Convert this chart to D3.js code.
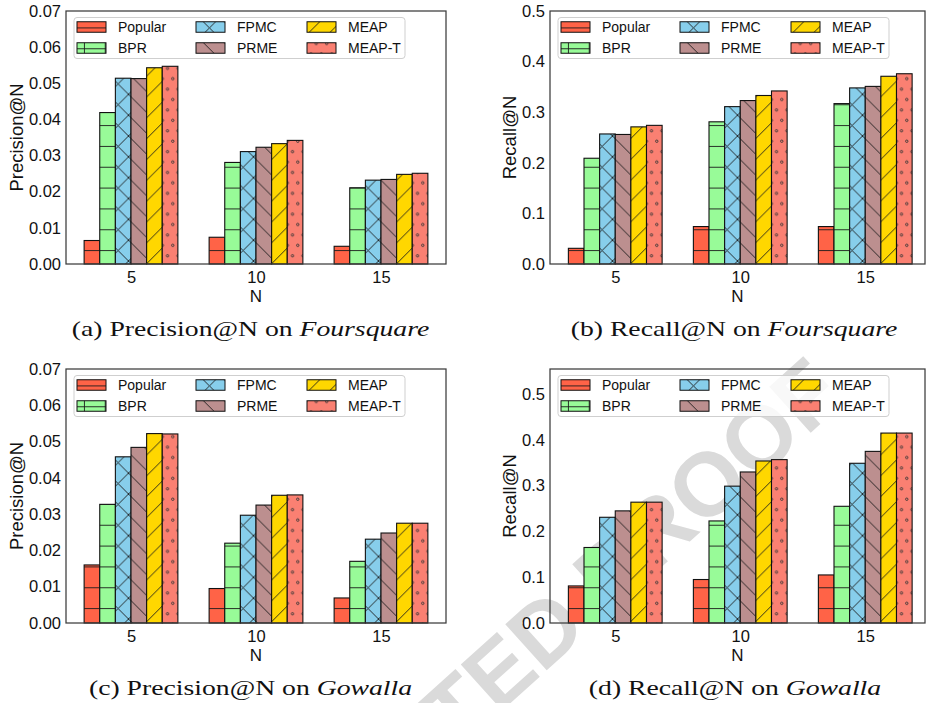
<!DOCTYPE html>
<html>
<head>
<meta charset="utf-8">
<script src="https://cdn.jsdelivr.net/npm/d3@7"></script>
<style>
  body { margin: 0; background: #fff; }
  svg { display: block; }
</style>
</head>
<body>
<div class="js-canvas"></div>
<script>
'use strict';

// ---- data ----
const methods = ['Popular', 'BPR', 'FPMC', 'PRME', 'MEAP', 'MEAP-T'];
const topN = ['5', '10', '15'];

const precisionTicks = [0, 0.01, 0.02, 0.03, 0.04, 0.05, 0.06, 0.07];
const recallTicks = [0, 0.1, 0.2, 0.3, 0.4, 0.5];

// one row per method, one column per N
const precisionFoursquare = [
    [0.0065, 0.0074, 0.0049],
    [0.0419, 0.0281, 0.0211],
    [0.0514, 0.0311, 0.0232],
    [0.0513, 0.0323, 0.0234],
    [0.0543, 0.0333, 0.0248],
    [0.0547, 0.0342, 0.0251]
];
const recallFoursquare = [
    [0.031, 0.074, 0.074],
    [0.209, 0.281, 0.317],
    [0.257, 0.311, 0.348],
    [0.256, 0.323, 0.351],
    [0.271, 0.333, 0.371],
    [0.274, 0.342, 0.376]
];
const precisionGowalla = [
    [0.0160, 0.0095, 0.0069],
    [0.0327, 0.0220, 0.0170],
    [0.0458, 0.0297, 0.0231],
    [0.0484, 0.0325, 0.0248],
    [0.0522, 0.0352, 0.0275],
    [0.0521, 0.0353, 0.0275]
];
const recallGowalla = [
    [0.081, 0.095, 0.105],
    [0.165, 0.223, 0.255],
    [0.231, 0.299, 0.349],
    [0.245, 0.330, 0.375],
    [0.264, 0.354, 0.415],
    [0.264, 0.357, 0.415]
];

// ---- styles ----
const colors = ['#ff6347', '#98fb98', '#87ceeb', '#bc8f8f', '#ffd700', '#fa8072'];
const hatches = ['-', '+', 'x', '\\', '/', '..'];

const config = {
    width: 930,
    height: 703,
    hatchSize: 125 / 6,
    barWidth: 0.125,
    tickFont: 16.5,
    legendFont: 14,
    labelFont: 18.5,
    captionFont: 22,
    captionWidth: 357.6
};

const panels = [
    { values: precisionFoursquare, ticks: precisionTicks, fmt: '.2f', yMax: 0.07, ylabel: 'Precision@N',
      tag: '(a) Precision@N on ', dataset: 'Foursquare', left: 66, top: 11, width: 380, height: 253,
      xlim: [-0.52, 2.52], captionX: 250.5 },
    { values: recallFoursquare, ticks: recallTicks, fmt: '.1f', yMax: 0.5, ylabel: 'Recall@N',
      tag: '(b) Recall@N on ', dataset: 'Foursquare', left: 550, top: 11, width: 375, height: 253,
      xlim: [-0.522, 2.478], captionX: 734 },
    { values: precisionGowalla, ticks: precisionTicks, fmt: '.2f', yMax: 0.07, ylabel: 'Precision@N',
      tag: '(c) Precision@N on ', dataset: 'Gowalla', left: 66, top: 369, width: 380, height: 254,
      xlim: [-0.52, 2.52], captionX: 250.5 },
    { values: recallGowalla, ticks: recallTicks, fmt: '.1f', yMax: 0.555, ylabel: 'Recall@N',
      tag: '(d) Recall@N on ', dataset: 'Gowalla', left: 550, top: 369, width: 375, height: 254,
      xlim: [-0.522, 2.478], captionX: 735 }
];

const svg = d3.select('.js-canvas')
    .append('svg')
    .attr('width', config.width)
    .attr('height', config.height);

// hatch patterns, tiled like matplotlib's (6 lines per inch)
const defs = svg.append('defs');
const T = config.hatchSize;
hatches.forEach((h, i) => {
    const dots = h === '..';
    const p = defs.append('pattern')
        .attr('id', 'hatch' + i)
        .attr('patternUnits', 'userSpaceOnUse')
        .attr('width', dots ? T / 2 : T)
        .attr('height', T);
    p.append('rect')
        .attr('width', dots ? T / 2 : T)
        .attr('height', T)
        .attr('fill', colors[i]);
    let d = '';
    if (h === '-') d = `M0,${T / 2}H${T}`;
    if (h === '+') d = `M0,${T / 2}H${T}M${T / 2},0V${T}`;
    if (h === 'x') d = `M-1,-1L${T + 1},${T + 1}M-1,${T + 1}L${T + 1},-1`;
    if (h === '\\') d = `M-1,-1L${T + 1},${T + 1}M${T - 1},-1L${T + 1},1M-1,${T - 1}L1,${T + 1}`;
    if (h === '/') d = `M-1,${T + 1}L${T + 1},-1M-1,1L1,-1M${T - 1},${T + 1}L${T + 1},${T - 1}`;
    if (d) {
        p.append('path')
            .attr('d', d)
            .attr('stroke', '#1a1a1a')
            .attr('stroke-width', 0.9)
            .attr('fill', 'none');
    }
    if (dots) {
        [[T / 8, T / 4], [T / 8 + T / 4, T * 3 / 4]].forEach(c => {
            p.append('circle')
                .attr('cx', c[0]).attr('cy', c[1]).attr('r', 1.2)
                .attr('fill', 'none')
                .attr('stroke', '#333')
                .attr('stroke-width', 0.9);
        });
    }
});

// watermark sits underneath the charts
svg.append('text')
    .attr('transform', 'translate(847,400) rotate(-42)')
    .attr('text-anchor', 'end')
    .attr('font-family', 'Liberation Sans, Arial, sans-serif')
    .attr('font-weight', 'bold')
    .attr('font-size', 90)
    .attr('fill', '#dadada')
    .text('UNCORRECTED PROOF');

let captionScale = null;

panels.forEach(panel => {
    const g = svg.append('g')
        .attr('transform', `translate(${panel.left}, ${panel.top})`);

    const x = d3.scaleLinear()
        .domain(panel.xlim)
        .range([0, panel.width]);

    const y = d3.scaleLinear()
        .domain([0, panel.yMax])
        .range([panel.height, 0]);

    const bw = x(config.barWidth) - x(0);

    // bars
    methods.forEach((m, i) => {
        g.selectAll('rect.m' + i)
            .data(panel.values[i])
            .enter().append('rect')
            .attr('class', 'm' + i)
            .attr('x', (d, j) => x(j + (i - 3) * config.barWidth))
            .attr('y', d => y(d))
            .attr('width', bw)
            .attr('height', d => panel.height - y(d))
            .attr('fill', `url(#hatch${i})`)
            .attr('stroke', '#111')
            .attr('stroke-width', 1.1);
    });

    // axes
    const yAxis = d3.axisLeft(y)
        .tickValues(panel.ticks)
        .tickFormat(d3.format(panel.fmt))
        .tickSize(0)
        .tickPadding(5);
    const xAxis = d3.axisBottom(x)
        .tickValues([0, 1, 2])
        .tickFormat((d, i) => topN[i])
        .tickSize(0)
        .tickPadding(7.3);

    const yAxisGroup = g.append('g').call(yAxis);
    const xAxisGroup = g.append('g')
        .attr('transform', `translate(0, ${panel.height})`)
        .call(xAxis);

    [yAxisGroup, xAxisGroup].forEach(a => {
        a.attr('font-family', 'Liberation Sans, Arial, sans-serif')
            .attr('font-size', config.tickFont);
        a.select('.domain').remove();
        a.selectAll('text').attr('fill', '#111');
    });

    // frame
    g.append('rect')
        .attr('width', panel.width)
        .attr('height', panel.height)
        .attr('fill', 'none')
        .attr('stroke', '#3c3c3c')
        .attr('stroke-width', 1.25);

    // labels
    const tickBox = yAxisGroup.node().getBBox();
    g.append('text')
        .attr('transform', `translate(${tickBox.x - 6}, ${panel.height / 2}) rotate(-90)`)
        .attr('text-anchor', 'middle')
        .attr('font-family', 'Liberation Sans, Arial, sans-serif')
        .attr('font-size', config.labelFont)
        .attr('fill', '#111')
        .text(panel.ylabel);

    g.append('text')
        .attr('x', panel.width / 2)
        .attr('y', panel.height + 38)
        .attr('text-anchor', 'middle')
        .attr('font-family', 'Liberation Sans, Arial, sans-serif')
        .attr('font-size', 17)
        .attr('fill', '#111')
        .text('N');

    // legend
    const legend = g.append('g')
        .attr('transform', 'translate(8, 6.5)');
    legend.append('rect')
        .attr('width', 331)
        .attr('height', 41)
        .attr('rx', 3)
        .attr('fill', '#fff')
        .attr('fill-opacity', 0.8)
        .attr('stroke', '#cfcfcf')
        .attr('stroke-width', 1);

    const colPatch = [3, 122, 233];
    const colText = [44, 163, 274];
    const rowMid = [9.5, 30.5];
    methods.forEach((m, i) => {
        const c = Math.floor(i / 2), r = i % 2;
        legend.append('rect')
            .attr('x', colPatch[c])
            .attr('y', rowMid[r] - 5.25)
            .attr('width', 29)
            .attr('height', 10.5)
            .attr('fill', `url(#hatch${i})`)
            .attr('stroke', '#111')
            .attr('stroke-width', 1);
        legend.append('text')
            .attr('x', colText[c])
            .attr('y', rowMid[r])
            .attr('dy', '0.36em')
            .attr('font-family', 'Liberation Sans, Arial, sans-serif')
            .attr('font-size', config.legendFont)
            .attr('fill', '#111')
            .text(m);
    });

    // caption below the panel
    const cap = svg.append('text')
        .attr('text-anchor', 'middle')
        .attr('font-family', 'Liberation Serif, Times New Roman, serif')
        .attr('font-size', config.captionFont)
        .attr('fill', '#111');
    cap.append('tspan').text(panel.tag);
    cap.append('tspan').attr('font-style', 'italic').text(panel.dataset);
    if (captionScale === null) {
        captionScale = config.captionWidth / cap.node().getComputedTextLength();
    }
    cap.attr('transform',
        `translate(${panel.captionX}, ${panel.top + panel.height + 72}) scale(${captionScale}, 1)`);
});
</script>
</body>
</html>
